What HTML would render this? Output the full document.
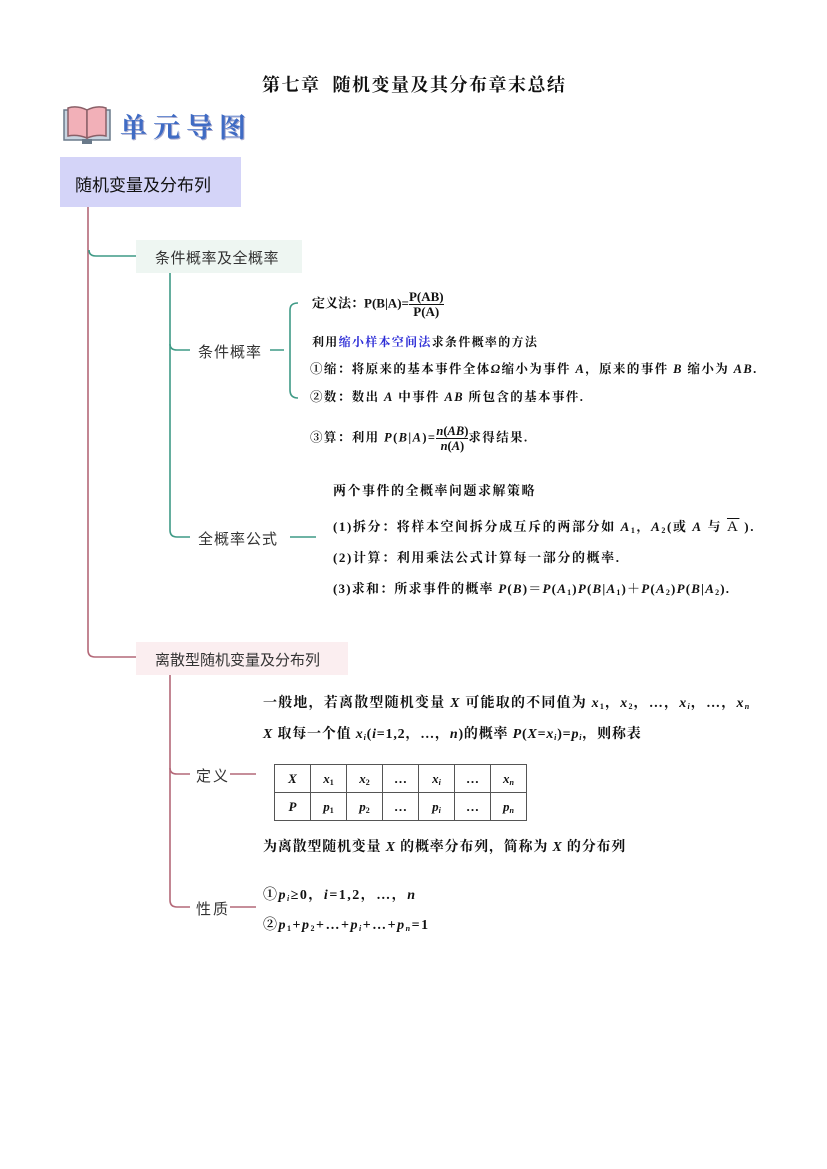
<!DOCTYPE html>
<html><head><meta charset="utf-8">
<style>
body{margin:0;width:827px;height:1169px;background:#fff;position:relative;overflow:hidden;font-family:"Liberation Serif","Noto Serif CJK SC",serif;color:#111}
.a{position:absolute;white-space:nowrap}
.s{font-family:"Liberation Sans","Noto Sans CJK SC",sans-serif}
.b{font-weight:bold}
.t{font-size:13px;font-weight:bold;line-height:16px}
i{font-style:italic}
sub{font-size:8px;vertical-align:-2px}
.fr{display:inline-block;vertical-align:middle;text-align:center;line-height:14px;letter-spacing:0}
.fr span{display:block}
.fr span:first-child{border-bottom:1px solid #111}
table{border-collapse:collapse;position:absolute;left:274px;top:764px}
td{border:1.5px solid #555;width:35px;height:27px;text-align:center;font-size:13px;font-weight:bold;padding:0}
</style></head><body>
<div class="a b" style="left:262px;top:71px;font-size:18px;letter-spacing:1.5px">第七章&nbsp; 随机变量及其分布章末总结</div>
<svg class="a" style="left:62px;top:104px" width="50" height="42" viewBox="0 0 50 42">
<rect x="2" y="6" width="46" height="30" fill="#c8d4e0" stroke="#6a7a8a" stroke-width="1.5"/>
<path d="M6 4 Q15 1 25 6 L25 34 Q15 30 6 32 Z" fill="#f2b0b8" stroke="#8a6068" stroke-width="1.5"/>
<path d="M44 4 Q35 1 25 6 L25 34 Q35 30 44 32 Z" fill="#f2b0b8" stroke="#8a6068" stroke-width="1.5"/>
<rect x="20" y="35" width="10" height="5" fill="#6a7a8a"/>
</svg>
<div class="a b" style="left:120px;top:106px;font-size:27px;color:#3f6bc4;letter-spacing:6px;font-family:'Noto Serif CJK SC',serif;text-shadow:1px 1px 0 #aac">单元导图</div>
<div class="a s" style="left:60px;top:157px;width:181px;height:50px;background:#d4d4f8"></div>
<div class="a s" style="left:75px;top:171px;font-size:17px">随机变量及分布列</div>
<svg class="a" style="left:0;top:0" width="827" height="1169">
<path d="M88 207 L88 650 Q88 657 95 657 L136 657" fill="none" stroke="#b46878" stroke-width="1.6"/>
<path d="M89 250 Q89 256 96 256 L136 256" fill="none" stroke="#3f9a86" stroke-width="1.6"/>
<path d="M170 273 L170 530 Q170 537 177 537 L190 537" fill="none" stroke="#3f9a86" stroke-width="1.6"/>
<path d="M170 344 Q170 350 177 350 L190 350" fill="none" stroke="#3f9a86" stroke-width="1.6"/>
<path d="M270 350 L284 350 M290 537 L316 537" stroke="#3f9a86" stroke-width="1.6"/>
<path d="M298 303 Q290 303 290 310 L290 390 Q290 398 298 398" fill="none" stroke="#3f9a86" stroke-width="1.6"/>
<path d="M170 675 L170 900 Q170 907 177 907 L190 907" fill="none" stroke="#b46878" stroke-width="1.6"/>
<path d="M170 768 Q170 774 177 774 L190 774" fill="none" stroke="#b46878" stroke-width="1.6"/>
<path d="M230 774 L256 774 M230 907 L256 907" stroke="#b46878" stroke-width="1.6"/>
</svg>
<div class="a" style="left:136px;top:240px;width:166px;height:33px;background:#eef6f2"></div>
<div class="a s" style="left:155px;top:247px;font-size:15px;color:#333;letter-spacing:0.5px">条件概率及全概率</div>
<div class="a s" style="left:198px;top:341px;font-size:15px;color:#333;letter-spacing:1px">条件概率</div>
<div class="a s" style="left:198px;top:528px;font-size:15px;color:#333;letter-spacing:1px">全概率公式</div>
<div class="a" style="left:136px;top:642px;width:212px;height:33px;background:#fbeef0"></div>
<div class="a s" style="left:155px;top:649px;font-size:15px;color:#333">离散型随机变量及分布列</div>
<div class="a s" style="left:196px;top:765px;font-size:15px;color:#333;letter-spacing:2px">定义</div>
<div class="a s" style="left:196px;top:898px;font-size:15px;color:#333;letter-spacing:2px">性质</div>

<div class="a t" style="left:312px;top:290px">定义法：P(B|A)=<span class="fr"><span>P(AB)</span><span>P(A)</span></span></div>
<div class="a t" style="left:312px;top:334px;font-size:12px;letter-spacing:1.3px">利用<span style="color:#2b2bd6">缩小样本空间法</span>求条件概率的方法</div>
<div class="a t" style="left:310px;top:361px;font-size:12.5px;letter-spacing:1.4px">①缩：将原来的基本事件全体<i>Ω</i>缩小为事件 <i>A</i>，原来的事件 <i>B</i> 缩小为 <i>AB</i>.</div>
<div class="a t" style="left:310px;top:389px;font-size:12.5px;letter-spacing:1.4px">②数：数出 <i>A</i> 中事件 <i>AB</i> 所包含的基本事件.</div>
<div class="a t" style="left:310px;top:424px;font-size:12.5px;letter-spacing:1.4px">③算：利用 <i>P</i>(<i>B</i>|<i>A</i>)=<span class="fr"><span><i>n</i>(<i>AB</i>)</span><span><i>n</i>(<i>A</i>)</span></span>求得结果.</div>

<div class="a t" style="left:333px;top:483px;letter-spacing:1.5px">两个事件的全概率问题求解策略</div>
<div class="a t" style="left:333px;top:519px;letter-spacing:1.6px">(1)拆分：将样本空间拆分成互斥的两部分如 <i>A</i><sub>1</sub>，<i>A</i><sub>2</sub>(或 <i>A</i> 与 <span style="text-decoration:overline;font-weight:normal;font-size:15px">A</span> ).</div>
<div class="a t" style="left:333px;top:550px;letter-spacing:1.6px">(2)计算：利用乘法公式计算每一部分的概率.</div>
<div class="a t" style="left:333px;top:581px;letter-spacing:1.2px">(3)求和：所求事件的概率 <i>P</i>(<i>B</i>)＝<i>P</i>(<i>A</i><sub>1</sub>)<i>P</i>(<i>B</i>|<i>A</i><sub>1</sub>)＋<i>P</i>(<i>A</i><sub>2</sub>)<i>P</i>(<i>B</i>|<i>A</i><sub>2</sub>).</div>

<div class="a t" style="left:263px;top:696px;font-size:14px;letter-spacing:1.2px">一般地，若离散型随机变量 <i>X</i> 可能取的不同值为 <i>x</i><sub>1</sub>，<i>x</i><sub>2</sub>，…，<i>x</i><sub><i>i</i></sub>，…，<i>x</i><sub><i>n</i></sub></div>
<div class="a t" style="left:263px;top:727px;font-size:14px;letter-spacing:0.8px"><i>X</i> 取每一个值 <i>x</i><sub><i>i</i></sub>(<i>i</i>=1,2，…，<i>n</i>)的概率 <i>P</i>(<i>X</i>=<i>x</i><sub><i>i</i></sub>)=<i>p</i><sub><i>i</i></sub>，则称表</div>
<table>
<tr><td><i>X</i></td><td><i>x</i><sub>1</sub></td><td><i>x</i><sub>2</sub></td><td>…</td><td><i>x</i><sub><i>i</i></sub></td><td>…</td><td><i>x</i><sub><i>n</i></sub></td></tr>
<tr><td><i>P</i></td><td><i>p</i><sub>1</sub></td><td><i>p</i><sub>2</sub></td><td>…</td><td><i>p</i><sub><i>i</i></sub></td><td>…</td><td><i>p</i><sub><i>n</i></sub></td></tr>
</table>
<div class="a t" style="left:263px;top:840px;font-size:14px;letter-spacing:0.8px">为离散型随机变量 <i>X</i> 的概率分布列，简称为 <i>X</i> 的分布列</div>
<div class="a t" style="left:263px;top:888px;font-size:14px;letter-spacing:1.5px">①<i>p</i><sub><i>i</i></sub>≥0，<i>i</i>=1,2，…，<i>n</i></div>
<div class="a t" style="left:263px;top:918px;font-size:14px;letter-spacing:1.5px">②<i>p</i><sub>1</sub>+<i>p</i><sub>2</sub>+…+<i>p</i><sub><i>i</i></sub>+…+<i>p</i><sub><i>n</i></sub>=1</div>
</body></html>
